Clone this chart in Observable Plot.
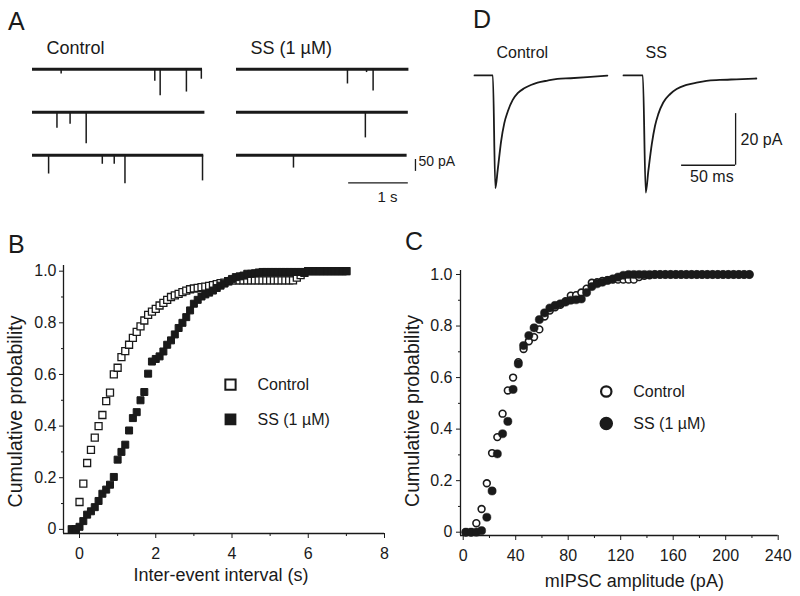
<!DOCTYPE html>
<html><head><meta charset="utf-8">
<script src="https://cdn.jsdelivr.net/npm/d3@7"></script>
<script src="https://cdn.jsdelivr.net/npm/@observablehq/plot@0.6"></script>
<style>
html,body{margin:0;padding:0;background:#fff;}
#fig{position:relative;width:800px;height:596px;overflow:hidden;background:#fff;font-family:"Liberation Sans",Arial,sans-serif;color:#1a1a1a;}
.panel{position:absolute;}
.letter{position:absolute;font-size:25px;line-height:1;}
</style></head><body><div id="fig"></div>
<script>
// ---------- Panel A: example sweeps (event time s, amplitude pA) ----------
const conditionsA = ["Control", "SS (1 µM)"];
const sweepConditions = ["Control", "Control", "Control", "SS (1 µM)", "SS (1 µM)", "SS (1 µM)"];
const sweepRows = [1, 2, 3, 1, 2, 3];
const sweepDurations = [2.85, 2.89, 2.87, 2.89, 2.88, 2.86];
const eventTimes = [
  [0.48, 2.05, 2.14, 2.58, 2.83],
  [0.41, 0.63, 0.90],
  [0.27, 1.17, 1.37, 1.55, 2.85],
  [1.86, 2.18, 2.29],
  [2.16],
  [0.955]
];
const eventAmps = [
  [20, 50, 112, 96, 42],
  [67, 50, 133],
  [79, 38, 38, 120, 108],
  [62, 14, 92],
  [108],
  [54]
];
const scaleBarA = {seconds: 1, pA: 50};

// ---------- Panel B: cumulative inter-event interval ----------
const intervalBins = [-0.2,-0.1,0,0.1,0.2,0.3,0.4,0.5,0.6,0.7,0.8,0.9,1.0,1.1,1.2,1.3,1.4,1.5,1.6,1.7,1.8,1.9,2.0,2.1,2.2,2.3,2.4,2.5,2.6,2.7,2.8,2.9,3.0,3.1,3.2,3.3,3.4,3.5,3.6,3.7,3.8,3.9,4.0,4.1,4.2,4.3,4.4,4.5,4.6,4.7,4.8,4.9,5.0,5.1,5.2,5.3,5.4,5.5,5.6,5.7,5.8,5.9,6.0,6.1,6.2,6.3,6.4,6.5,6.6,6.7,6.8,6.9,7.0];
const intervalControl = [0,0,0.106,0.177,0.257,0.308,0.355,0.40,0.443,0.497,0.53,0.60,0.626,0.667,0.69,0.715,0.742,0.765,0.786,0.809,0.831,0.843,0.854,0.867,0.877,0.889,0.90,0.906,0.912,0.919,0.925,0.93,0.933,0.935,0.938,0.94,0.943,0.946,0.95,0.954,0.956,0.961,0.964,0.964,0.964,0.964,0.964,0.964,0.964,0.964,0.964,0.964,0.964,0.964,0.964,0.964,0.964,0.964,0.964,0.975,0.985,0.994,1,1,1,1,1,1,1,1,1,1,1];
const intervalSS = [0,0,0.01,0.032,0.057,0.07,0.086,0.11,0.138,0.154,0.173,0.203,0.27,0.30,0.328,0.383,0.431,0.454,0.50,0.532,0.603,0.65,0.66,0.67,0.689,0.715,0.732,0.755,0.78,0.80,0.822,0.848,0.874,0.889,0.902,0.91,0.917,0.925,0.935,0.944,0.952,0.961,0.97,0.977,0.98,0.983,0.99,0.99,0.992,0.995,0.997,0.997,0.997,0.997,0.997,0.997,0.997,0.997,0.997,0.997,0.997,0.997,1,1,1,1,1,1,1,1,1,1,1];
const intervalTicks = [0, 2, 4, 6, 8];
const intervalMinorTicks = [1, 3, 5, 7];

// ---------- Panel C: cumulative mIPSC amplitude ----------
const amplitudeBins = [2,6,10,14,18,22,26,30,34,38,42,46,50,54,58,62,66,70,74,78,82,86,90,94,98,102,106,110,114,118,122,126,130,134,138,142,146,150,154,158,162,166,170,174,178,182,186,190,194,198,202,206,210,214,218];
const amplitudeControl = [0,0,0.035,0.09,0.19,0.307,0.369,0.46,0.55,0.60,0.66,0.711,0.741,0.757,0.787,0.837,0.86,0.873,0.882,0.896,0.918,0.92,0.93,0.945,0.968,0.97,0.975,0.978,0.98,0.98,0.98,0.98,0.98,0.99,0.995,0.997,1,1,1,1,1,1,1,1,1,1,1,1,1,1,1,1,1,1,1];
const amplitudeSS = [0,0,0,0.006,0.058,0.16,0.304,0.382,0.43,0.554,0.653,0.724,0.763,0.793,0.825,0.851,0.87,0.88,0.886,0.893,0.9,0.902,0.905,0.93,0.953,0.964,0.97,0.977,0.983,0.99,0.997,1,1,1,1,1,1,1,1,1,1,1,1,1,1,1,1,1,1,1,1,1,1,1,1];
const amplitudeTicks = [0, 40, 80, 120, 160, 200, 240];
const amplitudeMinorTicks = [20, 60, 100, 140, 180, 220];
const probTicks = [0, 0.2, 0.4, 0.6, 0.8, 1.0];
const probMinorTicks = [0.1, 0.3, 0.5, 0.7, 0.9];

// ---------- Panel D: averaged mIPSCs (ms, pA) ----------
const conditionsD = ["Control", "SS"];
const traceTimeControl = [0, 17, 19.3, 21.5, 24.6, 27.6, 30.8, 35.4, 40, 46, 52.2, 58.4, 67.6, 76.8, 89, 104.4, 123];
const traceCurrentControl = [0, 0, -43.7, -36.6, -25.6, -18.5, -14.0, -9.5, -6.9, -5.0, -3.7, -2.8, -2.0, -1.35, -1.1, -0.7, -0.1];
const traceTimeSS = [0, 17.9, 20.6, 23.0, 26.2, 29.2, 32.2, 36.8, 43.0, 49.2, 58.4, 67.6, 76.8, 89.1, 104.5, 123];
const traceCurrentSS = [0, 0, -45.4, -37.0, -26.6, -19.5, -15.0, -10.5, -7.3, -5.3, -3.7, -2.8, -2.1, -1.76, -1.5, -1.2];
const scaleBarD = {ms: 50, pA: 20};

// ---------- build tables ----------
const ink = "#1a1a1a";
const font = '"Liberation Sans", Arial, sans-serif';
const baseStyle = {fontFamily: font, fontSize: "16px", color: ink, background: "transparent", overflow: "visible"};

const sweeps = sweepConditions.map((c, k) => ({cond: c, row: sweepRows[k], dur: sweepDurations[k]}));
const events = [];
eventTimes.forEach((ts, k) => ts.forEach((t, j) => events.push({cond: sweepConditions[k], row: sweepRows[k], t, amp: eventAmps[k][j]})));

const dataB = intervalBins.flatMap((x, i) => [
  {x, y: intervalControl[i], s: "Control"},
  {x, y: intervalSS[i], s: "SS"}
]);
const dataC = amplitudeBins.flatMap((x, i) => [
  {x, y: amplitudeControl[i], s: "Control"},
  {x, y: amplitudeSS[i], s: "SS"}
]);
const traceD = [
  ...traceTimeControl.map((t, i) => ({cond: "Control", t, i: traceCurrentControl[i]})),
  ...traceTimeSS.map((t, i) => ({cond: "SS", t, i: traceCurrentSS[i]}))
];
const fmtProb = d => d === 0 ? "0" : d.toFixed(1);

const fig = document.getElementById("fig");
function place(node, left, top) {
  const w = document.createElement("div");
  w.className = "panel"; w.style.left = left + "px"; w.style.top = top + "px";
  w.appendChild(node); fig.appendChild(w);
}
function letter(t, left, top) {
  const d = document.createElement("div");
  d.className = "letter"; d.textContent = t; d.style.left = left + "px"; d.style.top = top + "px";
  fig.appendChild(d);
}

// ---------- Panel A ----------
const plotA = Plot.plot({
  width: 460, height: 215, marginLeft: 31, marginRight: 50, marginTop: 63.9, marginBottom: 25.9,
  x: {domain: [0, 2.9], axis: null},
  y: {domain: [-140, 20], axis: null},
  fx: {domain: conditionsA, paddingInner: 0.151, paddingOuter: 0, axis: null},
  fy: {domain: [1, 2, 3], paddingInner: 0.115, paddingOuter: 0, axis: null},
  style: baseStyle,
  marks: [
    Plot.ruleY(sweeps, {fx: "cond", fy: "row", y: () => 0, x1: () => 0, x2: "dur", stroke: ink, strokeWidth: 3}),
    Plot.ruleX(events, {fx: "cond", fy: "row", x: "t", y1: () => 0, y2: d => -d.amp, stroke: ink, strokeWidth: 1.5}),
    Plot.text(conditionsA, {fx: d => d, fy: () => 1, frameAnchor: "top-left", text: d => d, dx: 14, dy: -16, fontSize: 18, textAnchor: "start", lineAnchor: "middle", fill: ink}),
    Plot.ruleY([scaleBarA], {fx: () => "SS (1 µM)", fy: () => 3, y: () => -116, x1: d => 2.88 - d.seconds, x2: () => 2.88, stroke: ink, strokeWidth: 1.3}),
    Plot.text([scaleBarA], {fx: () => "SS (1 µM)", fy: () => 3, x: () => 2.53, y: () => -116, dy: 14, text: d => `${d.seconds} s`, fontSize: 15, lineAnchor: "middle", fill: ink}),
    Plot.ruleX([scaleBarA], {fx: () => "SS (1 µM)", fy: () => 3, x: () => 3.0, y1: () => -18, y2: d => -18 - d.pA, stroke: ink, strokeWidth: 1.3}),
    Plot.text([scaleBarA], {fx: () => "SS (1 µM)", fy: () => 3, x: () => 3.0, y: () => -18, dx: 3, dy: 2, text: d => `${d.pA} pA`, fontSize: 14, textAnchor: "start", lineAnchor: "middle", fill: ink})
  ]
});
place(plotA, 0, 0);

// ---------- Panel D ----------
const plotD = Plot.plot({
  width: 380, height: 215, marginLeft: 53.3, marginRight: 41, marginTop: 62, marginBottom: 11,
  x: {domain: [0, 125], axis: null},
  y: {domain: [-50, 5], axis: null},
  fx: {domain: conditionsD, paddingInner: 0.0953, paddingOuter: 0, axis: null},
  style: baseStyle,
  marks: [
    Plot.line(traceD, {fx: "cond", x: "t", y: "i", stroke: ink, strokeWidth: 1.8, curve: "monotone-x"}),
    Plot.text(conditionsD, {fx: d => d, frameAnchor: "top-left", text: d => d, dx: 22, dy: -10, fontSize: 16, textAnchor: "start", lineAnchor: "middle", fill: ink}),
    Plot.ruleY([scaleBarD], {fx: () => "SS", y: () => -34.8, x1: d => 103.8 - d.ms, x2: () => 103.8, stroke: ink, strokeWidth: 1.3}),
    Plot.ruleX([scaleBarD], {fx: () => "SS", x: () => 103.8, y1: () => -34.8, y2: d => -34.8 + d.pA, stroke: ink, strokeWidth: 1.3}),
    Plot.text([scaleBarD], {fx: () => "SS", x: () => 103.8, y: d => -34.8 + d.pA / 2, dx: 5, text: d => `${d.pA} pA`, fontSize: 16, textAnchor: "start", lineAnchor: "middle", fill: ink}),
    Plot.text([scaleBarD], {fx: () => "SS", x: d => 103.8 - d.ms / 2 + 3, y: () => -34.8, dy: 12, text: d => `${d.ms} ms`, fontSize: 16, lineAnchor: "middle", fill: ink})
  ]
});
place(plotD, 420, 0);

// ---------- Panel B ----------
const bX = [-0.42, 8], bY = [-0.016, 1.022];
const plotB = Plot.plot({
  width: 400, height: 376, marginLeft: 63, marginRight: 16, marginTop: 45, marginBottom: 63,
  x: {domain: bX}, y: {domain: bY},
  style: baseStyle,
  marks: [
    Plot.ruleX([bX[0]], {stroke: ink, strokeWidth: 1.3}),
    Plot.ruleY([bY[0]], {stroke: ink, strokeWidth: 1.3}),
    Plot.axisY({ticks: probTicks, tickSize: 4, tickPadding: 3, tickFormat: fmtProb, fontSize: 16, label: null, stroke: ink, fill: ink}),
    Plot.axisY({ticks: probMinorTicks, tickSize: 2, tickFormat: () => "", label: null, stroke: ink}),
    Plot.axisX({ticks: intervalTicks, tickSize: 5, tickPadding: 9, fontSize: 16, label: null, stroke: ink, fill: ink}),
    Plot.axisX({ticks: intervalMinorTicks, tickSize: 3, tickFormat: () => "", label: null, stroke: ink}),
    Plot.text(["Inter-event interval (s)"], {frameAnchor: "bottom", dx: -3, dy: 42, fontSize: 18, textAnchor: "middle", lineAnchor: "middle", fill: ink}),
    Plot.text(["Cumulative probability"], {frameAnchor: "left", rotate: -90, dx: -48, dy: 12, fontSize: 19.5, textAnchor: "middle", lineAnchor: "middle", fill: ink}),
    Plot.dot(dataB.filter(d => d.s === "Control"), {x: "x", y: "y", symbol: "square", r: 3.95, stroke: ink, fill: "white", strokeWidth: 1.3}),
    Plot.dot(dataB.filter(d => d.s === "SS"), {x: "x", y: "y", symbol: "square", r: 3.95, stroke: ink, fill: ink, strokeWidth: 1}),
    Plot.dot(["Control"], {x: () => 3.96, y: () => 0.561, symbol: "square", r: 5.8, stroke: ink, fill: "white", strokeWidth: 2}),
    Plot.dot(["SS (1 µM)"], {x: () => 3.96, y: () => 0.426, symbol: "square", r: 5.8, stroke: ink, fill: ink}),
    Plot.text(["Control"], {x: () => 3.96, y: () => 0.561, dx: 27, text: d => d, textAnchor: "start", fontSize: 16, fill: ink}),
    Plot.text(["SS (1 µM)"], {x: () => 3.96, y: () => 0.426, dx: 27, text: d => d, textAnchor: "start", fontSize: 16, fill: ink})
  ]
});
place(plotB, 0, 220);

// ---------- Panel C ----------
const cX = [-2.06, 240], cY = [-0.0128, 1.0155];
const plotC = Plot.plot({
  width: 400, height: 376, marginLeft: 60, marginRight: 22.3, marginTop: 50, marginBottom: 61,
  x: {domain: cX}, y: {domain: cY},
  style: baseStyle,
  marks: [
    Plot.ruleX([cX[0]], {stroke: ink, strokeWidth: 1.3}),
    Plot.ruleY([cY[0]], {stroke: ink, strokeWidth: 1.3}),
    Plot.axisY({ticks: probTicks, tickSize: 4, tickPadding: 4, tickFormat: fmtProb, fontSize: 16, label: null, stroke: ink, fill: ink}),
    Plot.axisY({ticks: probMinorTicks, tickSize: 2, tickFormat: () => "", label: null, stroke: ink}),
    Plot.axisX({ticks: amplitudeTicks, tickSize: 5, tickPadding: 9, fontSize: 16, label: null, stroke: ink, fill: ink}),
    Plot.axisX({ticks: amplitudeMinorTicks, tickSize: 3, tickFormat: () => "", label: null, stroke: ink}),
    Plot.text(["mIPSC amplitude (pA)"], {frameAnchor: "bottom", dx: 15, dy: 46, fontSize: 18, textAnchor: "middle", lineAnchor: "middle", fill: ink}),
    Plot.text(["Cumulative probability"], {frameAnchor: "left", rotate: -90, dx: -48, dy: 8, fontSize: 19.5, textAnchor: "middle", lineAnchor: "middle", fill: ink}),
    Plot.dot(dataC.filter(d => d.s === "Control"), {x: "x", y: "y", r: 3.4, stroke: ink, fill: "white", strokeWidth: 1.6}),
    Plot.dot(dataC.filter(d => d.s === "SS"), {x: "x", y: "y", r: 4.1, stroke: ink, fill: ink, strokeWidth: 0.5}),
    Plot.dot(["Control"], {x: () => 109, y: () => 0.546, r: 5.2, stroke: ink, fill: "white", strokeWidth: 2.2}),
    Plot.dot(["SS (1 µM)"], {x: () => 109, y: () => 0.422, r: 6, stroke: ink, fill: ink}),
    Plot.text(["Control"], {x: () => 109, y: () => 0.546, dx: 27, text: d => d, textAnchor: "start", fontSize: 16, fill: ink}),
    Plot.text(["SS (1 µM)"], {x: () => 109, y: () => 0.422, dx: 27, text: d => d, textAnchor: "start", fontSize: 16, fill: ink})
  ]
});
place(plotC, 400, 220);

letter("A", 8, 8.8);
letter("D", 473, 7);
letter("B", 8, 231.8);
letter("C", 405, 228.8);
</script></body></html>
